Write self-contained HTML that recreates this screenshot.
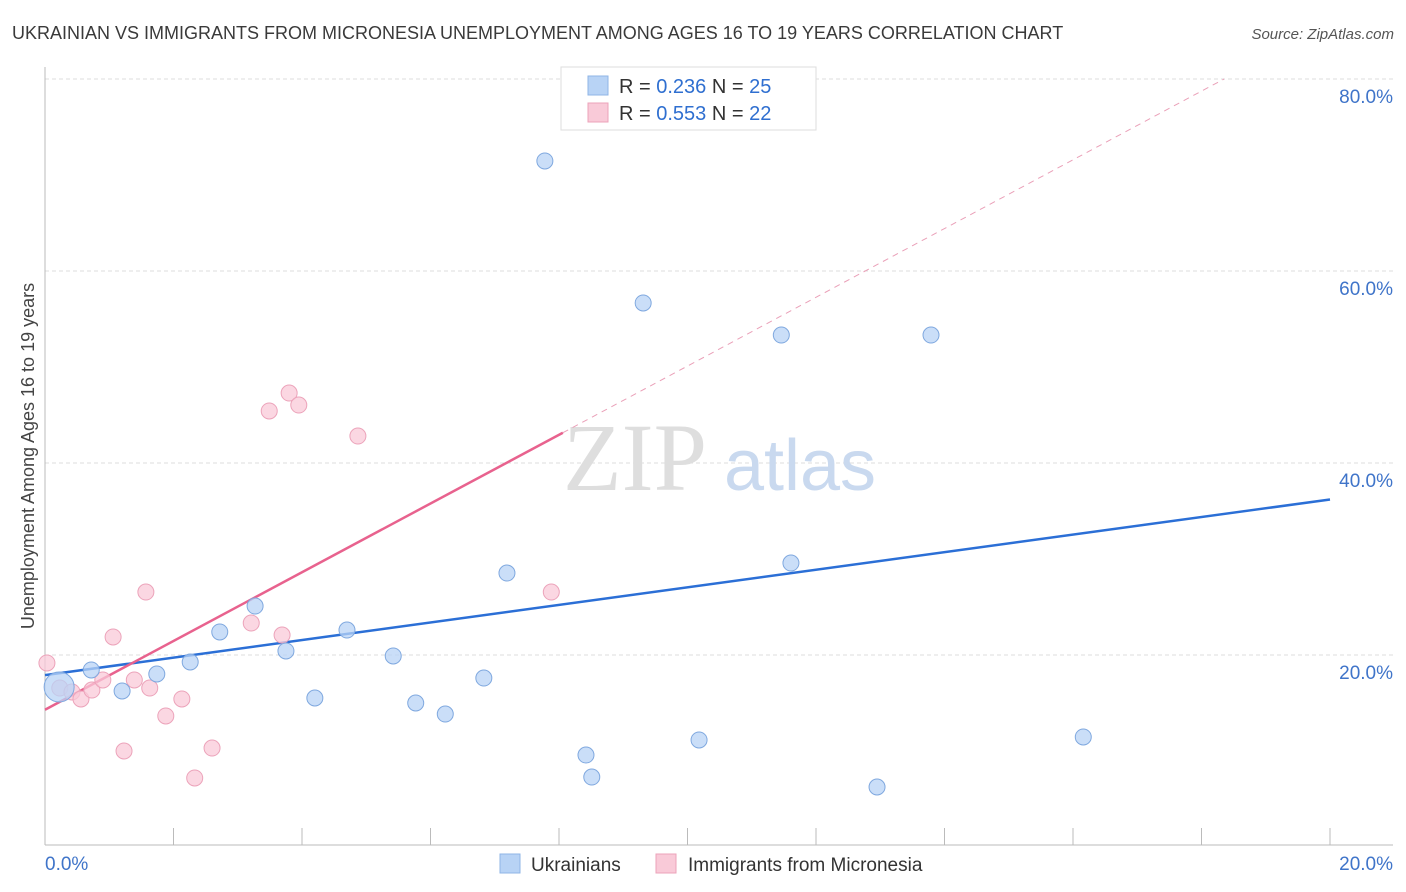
<!DOCTYPE html>
<html><head><meta charset="utf-8"><style>
body{margin:0;background:#fff;font-family:"Liberation Sans",sans-serif}
svg{display:block}
</style></head><body>
<svg id="chart" width="1406" height="892" xmlns="http://www.w3.org/2000/svg">
<text x="12" y="39" font-size="18" fill="#3a3a3a">UKRAINIAN VS IMMIGRANTS FROM MICRONESIA UNEMPLOYMENT AMONG AGES 16 TO 19 YEARS CORRELATION CHART</text>
<text x="1394" y="39" font-size="15" fill="#555" font-style="italic" text-anchor="end">Source: ZipAtlas.com</text>
<g id="grid"></g>
<g>
<text x="635" y="490" font-size="96" font-family="Liberation Serif,serif" fill="#dedede" text-anchor="middle">ZIP</text>
<text x="800" y="490" font-size="72" fill="#c9d9ef" text-anchor="middle">atlas</text>
</g>
<g id="lines"></g>
<g id="points"></g>
<text transform="translate(34,456) rotate(-90)" font-size="18" fill="#444" text-anchor="middle">Unemployment Among Ages 16 to 19 years</text>
<g>
<rect x="561" y="67" width="255" height="63" fill="#fff" stroke="#ddd"/>
<rect x="588" y="76" width="20" height="19" fill="#b8d3f5" stroke="#8fb5e6"/>
<text x="619" y="93" font-size="20" fill="#333">R = <tspan fill="#2f6fd0">0.236</tspan>   N = <tspan fill="#2f6fd0">25</tspan></text>
<rect x="588" y="103" width="20" height="19" fill="#f9cad8" stroke="#eca3ba"/>
<text x="619" y="120" font-size="20" fill="#333">R = <tspan fill="#2f6fd0">0.553</tspan>   N = <tspan fill="#2f6fd0">22</tspan></text>
</g>
<g>
<rect x="500" y="854" width="20" height="19" fill="#b8d3f5" stroke="#8fb5e6"/>
<text x="531" y="871" font-size="19" fill="#333">Ukrainians</text>
<rect x="656" y="854" width="20" height="19" fill="#f9cad8" stroke="#eca3ba"/>
<text x="688" y="871" font-size="19" fill="#333">Immigrants from Micronesia</text>
</g>
</svg>
<script>
const ukrX=[7.78,9.31,11.46,13.79,7.19,11.61,3.27,4.70,2.72,3.75,5.42,2.26,1.74,0.72,1.20,0.22,4.20,5.77,6.83,6.23,8.42,8.51,10.18,12.95,16.16];
const ukrY=[71.46,56.67,53.33,53.33,28.54,29.58,25.10,22.60,22.40,20.42,19.90,19.27,18.02,18.44,16.25,16.67,15.52,15.00,17.60,13.85,9.58,7.29,11.15,6.25,11.46];
const micX=[0.03,0.23,0.42,0.56,0.73,0.90,1.06,1.23,1.39,1.57,1.63,1.88,2.13,2.33,2.60,3.21,3.49,3.69,3.80,3.95,4.87,7.88];
const micY=[19.17,16.56,16.15,15.42,16.35,17.40,21.88,10.0,17.40,26.56,16.56,13.65,15.42,7.19,10.31,23.33,45.42,22.08,47.29,46.04,42.81,26.56];
const yTicks=[20,40,60,80];
const xTickLabels=["0.0%","20.0%"];
const ukrLine=[17.9,36.2];
const micLine=[14.3,3.58];
const micSolidEnd=8.06;
const NS="http://www.w3.org/2000/svg";
const X=v=>45+v*64.25, Y=v=>847-v*9.6;
function mk(t,a,p){const e=document.createElementNS(NS,t);for(const k in a)e.setAttribute(k,a[k]);p.appendChild(e);return e;}
const g=document.getElementById('grid');
yTicks.forEach(t=>{
 const l=mk('line',{x1:45,x2:1393,y1:Y(t),y2:Y(t),stroke:'#ddd','stroke-dasharray':'4,3'},g);
 
 
 const tx=mk('text',{x:1393,y:Y(t)+24,'font-size':19,fill:'#3f74c9','text-anchor':'end'},g);
 tx.textContent=t.toFixed(1)+'%';
 
 
});
let ax=mk('line',{x1:45,x2:45,y1:67,y2:845,stroke:'#bbb'},g);


ax=mk('line',{x1:45,x2:1393,y1:845,y2:845,stroke:'#bbb'},g);


for(let i=1;i<=10;i++){const t=mk('line',{x1:X(i*2),x2:X(i*2),y1:828,y2:845,stroke:'#bbb'},g);
 
 }
[[0,'start',45],[20,'end',1393]].forEach((d,i)=>{const t=mk('text',{x:d[2],y:870,'font-size':19,fill:'#3f74c9','text-anchor':d[1]},g);t.textContent=xTickLabels[i];
 
 });
const L=document.getElementById('lines');
let e=mk('line',{x1:X(0),y1:Y(ukrLine[0]),x2:X(20),y2:Y(ukrLine[1]),stroke:'#2b6fd6','stroke-width':2.5},L);


e=mk('line',{x1:X(0),y1:Y(micLine[0]),x2:X(micSolidEnd),y2:Y(micLine[0]+micLine[1]*micSolidEnd),stroke:'#e8628e','stroke-width':2.5},L);


const xe=(80-micLine[0])/micLine[1];
e=mk('line',{x1:X(micSolidEnd),y1:Y(micLine[0]+micLine[1]*micSolidEnd),x2:X(xe),y2:Y(80),stroke:'#eaa0b8','stroke-width':1,'stroke-dasharray':'6,5'},L);


const P=document.getElementById('points');
micX.forEach((x,i)=>{const c=mk('circle',{cx:X(x),cy:Y(micY[i]),r:8,fill:'#f9cad8','fill-opacity':0.75,stroke:'#eca3ba'},P);
 
 });
ukrX.forEach((x,i)=>{const c=mk('circle',{cx:X(x),cy:Y(ukrY[i]),r:i==15?15:8,fill:'#b8d3f5','fill-opacity':0.75,stroke:'#7fa8df'},P);
 
 });
</script>
</body></html>
